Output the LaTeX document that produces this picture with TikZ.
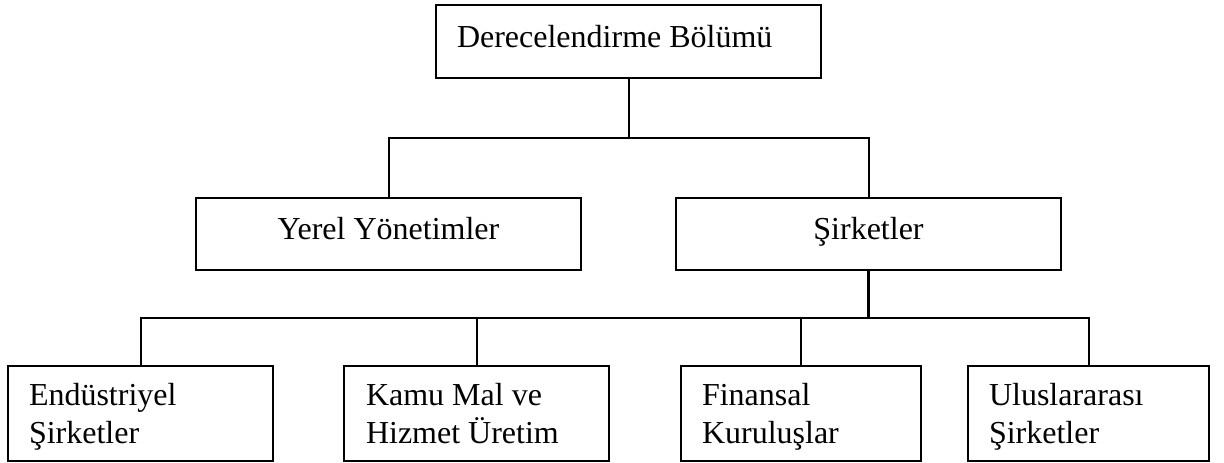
\documentclass[tikz,border=0pt]{standalone}
\usepackage{fontspec}
\setmainfont{Liberation Serif}
\begin{document}
\begin{tikzpicture}[x=1pt,y=-1pt,
  box/.style={draw=black, line width=2pt, rectangle, inner sep=0pt, outer sep=0pt, anchor=north west},
  lbl/.style={inner sep=0pt, outer sep=0pt, font=\fontsize{32}{38}\selectfont, text=black},
  conn/.style={draw=black, line width=2pt}]
\useasboundingbox (0,0) rectangle (1224,463);
% boxes
\node[box, minimum width=385pt, minimum height=73pt] (top) at (436,5) {};
\node[box, minimum width=385pt, minimum height=72pt] (yerel) at (196,198) {};
\node[box, minimum width=385pt, minimum height=72pt] (sirk) at (676,198) {};
\node[box, minimum width=265pt, minimum height=95pt] (endu) at (8,366) {};
\node[box, minimum width=265pt, minimum height=95pt] (kamu) at (344,366) {};
\node[box, minimum width=240pt, minimum height=95pt] (fin) at (681,366) {};
\node[box, minimum width=241pt, minimum height=95pt] (ulus) at (968,366) {};
% labels
\node[lbl, anchor=base west] (ttop) at (457,47) {Derecelendirme Bölümü};
\node[lbl, anchor=base] (tyerel) at (388.5,239) {Yerel Yönetimler};
\node[lbl, anchor=base] (tsirk) at (868.5,239) {Şirketler};
\node[lbl, anchor=north west, align=left] (tendu) at (29,383) {Endüstriyel\\Şirketler};
\node[lbl, anchor=north west, align=left] (tkamu) at (366,383) {Kamu Mal ve\\Hizmet Üretim};
\node[lbl, anchor=north west, align=left] (tfin) at (702,383) {Finansal\\Kuruluşlar};
\node[lbl, anchor=north west, align=left] (tulus) at (989,383) {Uluslararası\\Şirketler};
% junctions
\coordinate (j1) at (628.5,138);
\coordinate (j2) at (868.5,318);
% connectors
\draw[conn] (top.south) -- (j1);
\draw[conn] (yerel.north) |- (j1) -| (sirk.north);
\draw[conn, line width=2.8pt] (sirk.south) -- (j2);
\draw[conn] (endu.north) |- (j2);
\draw[conn] (kamu.north) |- (j2);
\draw[conn] (fin.north) |- (j2);
\draw[conn] (ulus.north) |- (j2);
\end{tikzpicture}
\end{document}
